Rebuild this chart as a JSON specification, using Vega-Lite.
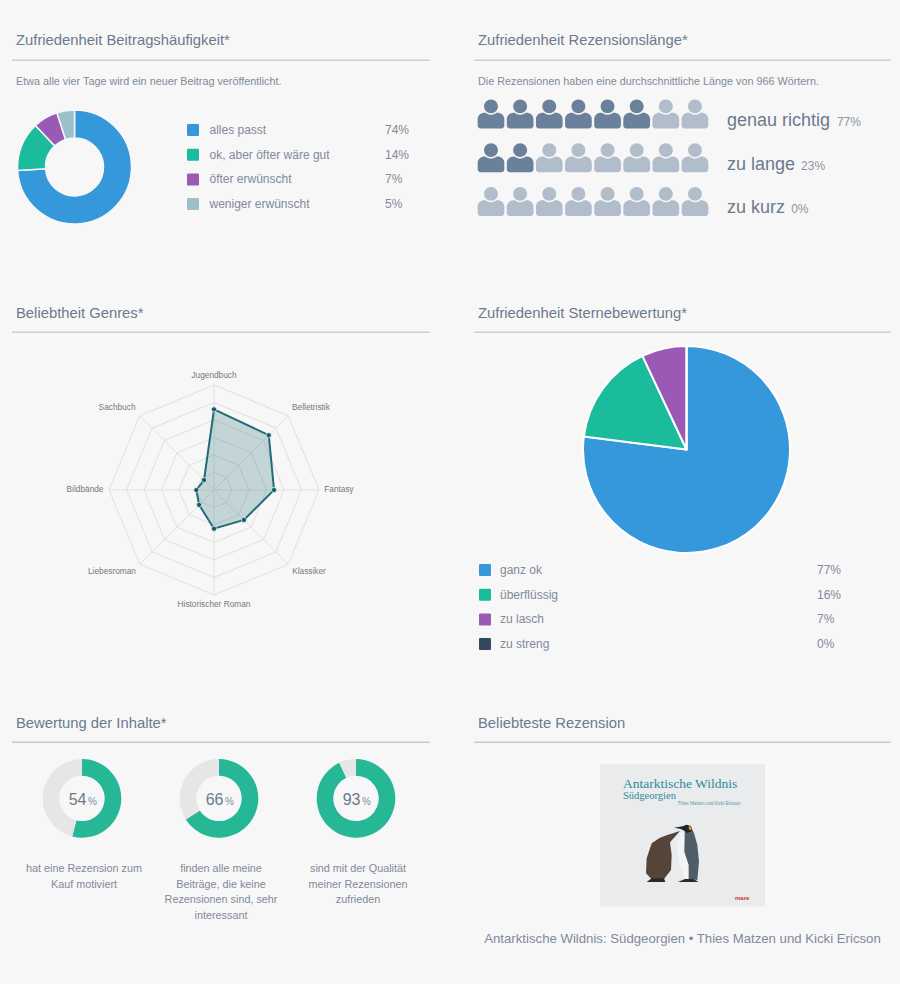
{
  "$schema": "https://vega.github.io/schema/vega-lite/v6.json",
  "description": "Umfrage-Auswertung eines Buchblogs",
  "background": "#f7f7f7",
  "padding": {"left": 11, "top": 31, "right": 8, "bottom": 0},
  "spacing": 0,
  "resolve": {"scale": {"color": "independent", "shape": "independent", "size": "independent"}},
  "config": {
    "font": "Liberation Sans",
    "view": {"stroke": null},
    "axis": {"disable": true},
    "legend": {"disable": true}
  },
  "vconcat": [
    {
      "resolve": {"scale": {"color": "independent", "shape": "independent", "size": "independent"}},
      "hconcat": [
        {
          "resolve": {"scale": {"color": "independent", "shape": "independent", "size": "independent"}},
          "vconcat": [
            {
              "width": 418, "height": 30,
              "data": {"values": [{"titel": "Zufriedenheit Beitragshäufigkeit*"}]},
              "layer": [
                {"mark": {"type": "text", "align": "left", "baseline": "middle", "fontSize": 14.8, "color": "#6c7a8d"},
                 "encoding": {"x": {"datum": 4, "scale": {"domain": [0, 418], "nice": false}}, "y": {"datum": 10, "scale": {"domain": [30, 0], "nice": false}}, "text": {"field": "titel"}}},
                {"mark": {"type": "rule", "color": "#cfcfcf", "strokeWidth": 1.5},
                 "encoding": {"y": {"datum": 29.25}}}
              ]
            },
            {
              "width": 418, "height": 42,
              "data": {"values": [{"text": "Etwa alle vier Tage wird ein neuer Beitrag veröffentlicht."}]},
              "mark": {"type": "text", "align": "left", "baseline": "middle", "fontSize": 10.8, "color": "#808a9a"},
              "encoding": {"x": {"datum": 4, "scale": {"domain": [0, 418], "nice": false}}, "y": {"datum": 21, "scale": {"domain": [42, 0], "nice": false}}, "text": {"field": "text"}}
            },
            {
              "resolve": {"scale": {"color": "independent", "shape": "independent", "size": "independent"}},
              "hconcat": [
                {
                  "width": 175, "height": 200,
                  "data": {"values": [
                    {"kategorie": "alles passt", "anteil": 74, "rang": 1},
                    {"kategorie": "ok, aber öfter wäre gut", "anteil": 14, "rang": 2},
                    {"kategorie": "öfter erwünscht", "anteil": 7, "rang": 3},
                    {"kategorie": "weniger erwünscht", "anteil": 5, "rang": 4}
                  ]},
                  "mark": {"type": "arc", "outerRadius": 57, "innerRadius": 29, "stroke": "#f7f7f7", "strokeWidth": 1.5},
                  "encoding": {
                    "x": {"datum": 62.5, "scale": {"domain": [0, 175], "nice": false}},
                    "y": {"datum": 64, "scale": {"domain": [200, 0], "nice": false}},
                    "theta": {"field": "anteil", "type": "quantitative", "stack": true, "scale": {"domain": [0, 100]}},
                    "order": {"field": "rang"},
                    "color": {"field": "kategorie", "scale": {"domain": ["alles passt", "ok, aber öfter wäre gut", "öfter erwünscht", "weniger erwünscht"], "range": ["#3498db", "#1abc9c", "#9b59b6", "#9bc0c9"]}}
                  }
                },
                {
                  "width": 243, "height": 200,
                  "data": {"values": [
                    {"kategorie": "alles passt", "prozent": "74%"},
                    {"kategorie": "ok, aber öfter wäre gut", "prozent": "14%"},
                    {"kategorie": "öfter erwünscht", "prozent": "7%"},
                    {"kategorie": "weniger erwünscht", "prozent": "5%"}
                  ]},
                  "encoding": {
                    "y": {"field": "kategorie", "type": "nominal", "sort": null, "scale": {"range": [14.7, 113.4]}}
                  },
                  "layer": [
                    {"mark": {"type": "point", "filled": true, "opacity": 1, "size": 144, "shape": "M-0.8,-1 L0.8,-1 Q1,-1 1,-0.8 L1,0.8 Q1,1 0.8,1 L-0.8,1 Q-1,1 -1,0.8 L-1,-0.8 Q-1,-1 -0.8,-1 Z"},
                     "encoding": {"x": {"datum": 6, "scale": {"domain": [0, 243], "nice": false}},
                       "color": {"field": "kategorie", "scale": {"domain": ["alles passt", "ok, aber öfter wäre gut", "öfter erwünscht", "weniger erwünscht"], "range": ["#3498db", "#1abc9c", "#9b59b6", "#9bc0c9"]}}}},
                    {"mark": {"type": "text", "align": "left", "baseline": "middle", "fontSize": 12, "color": "#808a9a"},
                     "encoding": {"x": {"datum": 22.5}, "text": {"field": "kategorie"}}},
                    {"mark": {"type": "text", "align": "left", "baseline": "middle", "fontSize": 12, "color": "#808a9a"},
                     "encoding": {"x": {"datum": 198}, "text": {"field": "prozent"}}}
                  ]
                }
              ],
              "spacing": 0
            }
          ],
          "spacing": 0
        },
        {
          "resolve": {"scale": {"color": "independent", "shape": "independent", "size": "independent"}},
          "vconcat": [
            {
              "width": 417, "height": 30,
              "data": {"values": [{"titel": "Zufriedenheit Rezensionslänge*"}]},
              "layer": [
                {"mark": {"type": "text", "align": "left", "baseline": "middle", "fontSize": 14.8, "color": "#6c7a8d"},
                 "encoding": {"x": {"datum": 4, "scale": {"domain": [0, 417], "nice": false}}, "y": {"datum": 10, "scale": {"domain": [30, 0], "nice": false}}, "text": {"field": "titel"}}},
                {"mark": {"type": "rule", "color": "#cfcfcf", "strokeWidth": 1.5},
                 "encoding": {"y": {"datum": 29.25}}}
              ]
            },
            {
              "width": 417, "height": 32,
              "data": {"values": [{"text": "Die Rezensionen haben eine durchschnittliche Länge von 966 Wörtern."}]},
              "mark": {"type": "text", "align": "left", "baseline": "middle", "fontSize": 10.8, "color": "#808a9a"},
              "encoding": {"x": {"datum": 4, "scale": {"domain": [0, 417], "nice": false}}, "y": {"datum": 21, "scale": {"domain": [32, 0], "nice": false}}, "text": {"field": "text"}}
            },
            {
              "width": 417, "height": 210,
              "layer": [
                {
                  "data": {"values": [
                    {"urteil": "genau richtig", "platz": 1, "status": "voll"},
                    {"urteil": "genau richtig", "platz": 2, "status": "voll"},
                    {"urteil": "genau richtig", "platz": 3, "status": "voll"},
                    {"urteil": "genau richtig", "platz": 4, "status": "voll"},
                    {"urteil": "genau richtig", "platz": 5, "status": "voll"},
                    {"urteil": "genau richtig", "platz": 6, "status": "voll"},
                    {"urteil": "genau richtig", "platz": 7, "status": "leer"},
                    {"urteil": "genau richtig", "platz": 8, "status": "leer"},
                    {"urteil": "zu lange", "platz": 1, "status": "voll"},
                    {"urteil": "zu lange", "platz": 2, "status": "voll"},
                    {"urteil": "zu lange", "platz": 3, "status": "leer"},
                    {"urteil": "zu lange", "platz": 4, "status": "leer"},
                    {"urteil": "zu lange", "platz": 5, "status": "leer"},
                    {"urteil": "zu lange", "platz": 6, "status": "leer"},
                    {"urteil": "zu lange", "platz": 7, "status": "leer"},
                    {"urteil": "zu lange", "platz": 8, "status": "leer"},
                    {"urteil": "zu kurz", "platz": 1, "status": "leer"},
                    {"urteil": "zu kurz", "platz": 2, "status": "leer"},
                    {"urteil": "zu kurz", "platz": 3, "status": "leer"},
                    {"urteil": "zu kurz", "platz": 4, "status": "leer"},
                    {"urteil": "zu kurz", "platz": 5, "status": "leer"},
                    {"urteil": "zu kurz", "platz": 6, "status": "leer"},
                    {"urteil": "zu kurz", "platz": 7, "status": "leer"},
                    {"urteil": "zu kurz", "platz": 8, "status": "leer"}
                  ]},
                  "mark": {"type": "point", "filled": true, "opacity": 1, "size": 841,
                    "shape": "M-0.48,-0.52 C-0.48,-0.785 -0.265,-1 0,-1 C0.265,-1 0.48,-0.785 0.48,-0.52 C0.48,-0.255 0.265,-0.04 0,-0.04 C-0.265,-0.04 -0.48,-0.255 -0.48,-0.52 Z M-0.92,0.8 L-0.92,0.35 C-0.92,0.1 -0.7,-0.08 -0.45,-0.08 L-0.377,-0.08 C-0.25,0.03 -0.12,0.06 0,0.06 C0.12,0.06 0.25,0.03 0.377,-0.08 L0.45,-0.08 C0.7,-0.08 0.92,0.1 0.92,0.35 L0.92,0.8 C0.92,0.91 0.83,1 0.72,1 L-0.72,1 C-0.83,1 -0.92,0.91 -0.92,0.8 Z"},
                  "encoding": {
                    "x": {"field": "platz", "type": "quantitative", "scale": {"domain": [0.4166, 14.727], "nice": false, "zero": false}},
                    "y": {"field": "urteil", "type": "nominal", "scale": {"domain": ["genau richtig", "zu lange", "zu kurz"], "range": [-1, 130.25]}},
                    "color": {"field": "status", "scale": {"domain": ["voll", "leer"], "range": ["#6b819b", "#b1bdca"]}}
                  }
                },
                {
                  "data": {"values": [{"urteil": "genau richtig"}, {"urteil": "zu lange"}, {"urteil": "zu kurz"}]},
                  "mark": {"type": "text", "align": "left", "baseline": "alphabetic", "dy": 12, "fontSize": 18, "color": "#6c7a8d"},
                  "encoding": {"x": {"datum": 9.1}, "y": {"field": "urteil", "type": "nominal"}, "text": {"field": "urteil"}}
                },
                {
                  "data": {"values": [{"urteil": "genau richtig", "prozent": "77%"}]},
                  "mark": {"type": "text", "align": "left", "baseline": "alphabetic", "dy": 12, "fontSize": 12, "color": "#8a94a3"},
                  "encoding": {"x": {"datum": 12.87}, "y": {"field": "urteil", "type": "nominal"}, "text": {"field": "prozent"}}
                },
                {
                  "data": {"values": [{"urteil": "zu lange", "prozent": "23%"}]},
                  "mark": {"type": "text", "align": "left", "baseline": "alphabetic", "dy": 12, "fontSize": 12, "color": "#8a94a3"},
                  "encoding": {"x": {"datum": 11.64}, "y": {"field": "urteil", "type": "nominal"}, "text": {"field": "prozent"}}
                },
                {
                  "data": {"values": [{"urteil": "zu kurz", "prozent": "0%"}]},
                  "mark": {"type": "text", "align": "left", "baseline": "alphabetic", "dy": 12, "fontSize": 12, "color": "#8a94a3"},
                  "encoding": {"x": {"datum": 11.3}, "y": {"field": "urteil", "type": "nominal"}, "text": {"field": "prozent"}}
                }
              ]
            }
          ],
          "spacing": 0
        }
      ],
      "spacing": 42
    },
    {
      "resolve": {"scale": {"color": "independent", "shape": "independent", "size": "independent"}},
      "hconcat": [
        {
          "resolve": {"scale": {"color": "independent", "shape": "independent", "size": "independent"}},
          "vconcat": [
            {
              "width": 418, "height": 30,
              "data": {"values": [{"titel": "Beliebtheit Genres*"}]},
              "layer": [
                {"mark": {"type": "text", "align": "left", "baseline": "middle", "fontSize": 14.8, "color": "#6c7a8d"},
                 "encoding": {"x": {"datum": 4, "scale": {"domain": [0, 418], "nice": false}}, "y": {"datum": 11, "scale": {"domain": [30, 0], "nice": false}}, "text": {"field": "titel"}}},
                {"mark": {"type": "rule", "color": "#cfcfcf", "strokeWidth": 1.5},
                 "encoding": {"y": {"datum": 29.25}}}
              ]
            },
            {
              "width": 418, "height": 380,
              "layer": [
                {
                  "data": {"values": [{"ring": 1}, {"ring": 2}, {"ring": 3}, {"ring": 4}, {"ring": 5}, {"ring": 6}]},
                  "mark": {"type": "point", "filled": false, "opacity": 1, "stroke": "#e0e0e0", "strokeWidth": 1,
                    "shape": "M0,-1 L0.7071,-0.7071 L1,0 L0.7071,0.7071 L0,1 L-0.7071,0.7071 L-1,0 L-0.7071,-0.7071 Z"},
                  "encoding": {
                    "x": {"datum": 0, "scale": {"domain": [-11.543, 12.343], "nice": false, "zero": false}},
                    "y": {"datum": 0, "scale": {"domain": [-12.743, 8.971], "nice": false, "zero": false}},
                    "size": {"field": "ring", "type": "quantitative", "scale": {"type": "pow", "exponent": 2, "domain": [0, 6], "range": [0, 44100]}}
                  }
                },
                {
                  "data": {"values": [
                    {"x": 0, "y": 6, "x2": 0, "y2": -6},
                    {"x": 4.243, "y": 4.243, "x2": -4.243, "y2": -4.243},
                    {"x": 6, "y": 0, "x2": -6, "y2": 0},
                    {"x": 4.243, "y": -4.243, "x2": -4.243, "y2": 4.243}
                  ]},
                  "mark": {"type": "rule", "color": "#e0e0e0", "strokeWidth": 1},
                  "encoding": {
                    "x": {"field": "x", "type": "quantitative"}, "y": {"field": "y", "type": "quantitative"},
                    "x2": {"field": "x2"}, "y2": {"field": "y2"}
                  }
                },
                {
                  "data": {"name": "genres", "values": [
                    {"genre": "Jugendbuch", "reihe": 1, "x": 0, "y": 4.61},
                    {"genre": "Belletristik", "reihe": 2, "x": 3.13, "y": 3.13},
                    {"genre": "Fantasy", "reihe": 3, "x": 3.43, "y": 0},
                    {"genre": "Klassiker", "reihe": 4, "x": 1.71, "y": -1.71},
                    {"genre": "Historischer Roman", "reihe": 5, "x": 0, "y": -2.21},
                    {"genre": "Liebesroman", "reihe": 6, "x": -0.85, "y": -0.85},
                    {"genre": "Bildbände", "reihe": 7, "x": -1.01, "y": 0},
                    {"genre": "Sachbuch", "reihe": 8, "x": -0.57, "y": 0.57}
                  ]},
                  "mark": {"type": "line", "interpolate": "linear-closed", "fill": "#2a6f7c", "fillOpacity": 0.25, "stroke": "#226b78", "strokeWidth": 2},
                  "encoding": {
                    "x": {"field": "x", "type": "quantitative"}, "y": {"field": "y", "type": "quantitative"},
                    "order": {"field": "reihe"}
                  }
                },
                {
                  "data": {"name": "genres"},
                  "mark": {"type": "point", "filled": true, "opacity": 1, "size": 26, "color": "#0f5a66", "stroke": "#f7f7f7", "strokeWidth": 0.7},
                  "encoding": {"x": {"field": "x", "type": "quantitative"}, "y": {"field": "y", "type": "quantitative"}}
                },
                {
                  "data": {"values": [
                    {"genre": "Jugendbuch", "x": 0, "y": 6.53},
                    {"genre": "Belletristik", "x": 5.54, "y": 4.69},
                    {"genre": "Fantasy", "x": 7.14, "y": 0},
                    {"genre": "Klassiker", "x": 5.43, "y": -4.69},
                    {"genre": "Historischer Roman", "x": 0, "y": -6.57},
                    {"genre": "Liebesroman", "x": -5.83, "y": -4.69},
                    {"genre": "Bildbände", "x": -7.37, "y": 0},
                    {"genre": "Sachbuch", "x": -5.54, "y": 4.69}
                  ]},
                  "mark": {"type": "text", "fontSize": 8.3, "color": "#777777", "baseline": "middle"},
                  "encoding": {"x": {"field": "x", "type": "quantitative"}, "y": {"field": "y", "type": "quantitative"}, "text": {"field": "genre"}}
                }
              ]
            }
          ],
          "spacing": 0
        },
        {
          "resolve": {"scale": {"color": "independent", "shape": "independent", "size": "independent"}},
          "vconcat": [
            {
              "width": 417, "height": 30,
              "data": {"values": [{"titel": "Zufriedenheit Sternebewertung*"}]},
              "layer": [
                {"mark": {"type": "text", "align": "left", "baseline": "middle", "fontSize": 14.8, "color": "#6c7a8d"},
                 "encoding": {"x": {"datum": 4, "scale": {"domain": [0, 417], "nice": false}}, "y": {"datum": 11, "scale": {"domain": [30, 0], "nice": false}}, "text": {"field": "titel"}}},
                {"mark": {"type": "rule", "color": "#cfcfcf", "strokeWidth": 1.5},
                 "encoding": {"y": {"datum": 29.25}}}
              ]
            },
            {
              "width": 417, "height": 222,
              "data": {"values": [
                {"kategorie": "ganz ok", "anteil": 77, "rang": 1},
                {"kategorie": "überflüssig", "anteil": 16, "rang": 2},
                {"kategorie": "zu lasch", "anteil": 7, "rang": 3},
                {"kategorie": "zu streng", "anteil": 0, "rang": 4}
              ]},
              "mark": {"type": "arc", "outerRadius": 103.5, "stroke": "#ffffff", "strokeWidth": 2, "strokeJoin": "round"},
              "encoding": {
                "x": {"datum": 212.5, "scale": {"domain": [0, 417], "nice": false}},
                "y": {"datum": 116.5, "scale": {"domain": [222, 0], "nice": false}},
                "theta": {"field": "anteil", "type": "quantitative", "stack": true, "scale": {"domain": [0, 100]}},
                "order": {"field": "rang"},
                "color": {"field": "kategorie", "scale": {"domain": ["ganz ok", "überflüssig", "zu lasch", "zu streng"], "range": ["#3498db", "#1abc9c", "#9b59b6", "#34495e"]}}
              }
            },
            {
              "width": 417, "height": 158,
              "data": {"values": [
                {"kategorie": "ganz ok", "prozent": "77%"},
                {"kategorie": "überflüssig", "prozent": "16%"},
                {"kategorie": "zu lasch", "prozent": "7%"},
                {"kategorie": "zu streng", "prozent": "0%"}
              ]},
              "encoding": {
                "y": {"field": "kategorie", "type": "nominal", "sort": null, "scale": {"range": [2.7, 101.4]}}
              },
              "layer": [
                {"mark": {"type": "point", "filled": true, "opacity": 1, "size": 144, "shape": "M-0.8,-1 L0.8,-1 Q1,-1 1,-0.8 L1,0.8 Q1,1 0.8,1 L-0.8,1 Q-1,1 -1,0.8 L-1,-0.8 Q-1,-1 -0.8,-1 Z"},
                 "encoding": {"x": {"datum": 11, "scale": {"domain": [0, 417], "nice": false}},
                   "color": {"field": "kategorie", "scale": {"domain": ["ganz ok", "überflüssig", "zu lasch", "zu streng"], "range": ["#3498db", "#1abc9c", "#9b59b6", "#34495e"]}}}},
                {"mark": {"type": "text", "align": "left", "baseline": "middle", "fontSize": 12, "color": "#808a9a"},
                 "encoding": {"x": {"datum": 26}, "text": {"field": "kategorie"}}},
                {"mark": {"type": "text", "align": "left", "baseline": "middle", "fontSize": 12, "color": "#808a9a"},
                 "encoding": {"x": {"datum": 343}, "text": {"field": "prozent"}}}
              ]
            }
          ],
          "spacing": 0
        }
      ],
      "spacing": 42
    },
    {
      "resolve": {"scale": {"color": "independent", "shape": "independent", "size": "independent"}},
      "hconcat": [
        {
          "resolve": {"scale": {"color": "independent", "shape": "independent", "size": "independent"}},
          "vconcat": [
            {
              "width": 418, "height": 30,
              "data": {"values": [{"titel": "Bewertung der Inhalte*"}]},
              "layer": [
                {"mark": {"type": "text", "align": "left", "baseline": "middle", "fontSize": 14.8, "color": "#6c7a8d"},
                 "encoding": {"x": {"datum": 4, "scale": {"domain": [0, 418], "nice": false}}, "y": {"datum": 11, "scale": {"domain": [30, 0], "nice": false}}, "text": {"field": "titel"}}},
                {"mark": {"type": "rule", "color": "#c8cacb", "strokeWidth": 1.5},
                 "encoding": {"y": {"datum": 29.25}}}
              ]
            },
            {
              "data": {"values": [
                {"frage": "Kauf", "teil": "ja", "rang": 1, "anteil": 54, "text": "hat eine Rezension zum\nKauf motiviert"},
                {"frage": "Kauf", "teil": "nein", "rang": 2, "anteil": 46},
                {"frage": "Beiträge", "teil": "ja", "rang": 1, "anteil": 66, "text": "finden alle meine\nBeiträge, die keine\nRezensionen sind, sehr\ninteressant"},
                {"frage": "Beiträge", "teil": "nein", "rang": 2, "anteil": 34},
                {"frage": "Qualität", "teil": "ja", "rang": 1, "anteil": 93, "text": "sind mit der Qualität\nmeiner Rezensionen\nzufrieden"},
                {"frage": "Qualität", "teil": "nein", "rang": 2, "anteil": 7}
              ]},
              "facet": {"column": {"field": "frage", "type": "nominal", "sort": ["Kauf", "Beiträge", "Qualität"], "header": null}},
              "spacing": 0,
              "spec": {
                "width": 136.4, "height": 242,
                "layer": [
                  {
                    "mark": {"type": "arc", "outerRadius": 39.3, "innerRadius": 22.7},
                    "encoding": {
                      "x": {"datum": 70, "scale": {"domain": [0, 136.4], "nice": false}},
                      "y": {"datum": 55.4, "scale": {"domain": [242, 0], "nice": false}},
                      "theta": {"field": "anteil", "type": "quantitative", "stack": true, "scale": {"domain": [0, 100]}},
                      "order": {"field": "rang"},
                      "color": {"field": "teil", "scale": {"domain": ["ja", "nein"], "range": ["#26b896", "#e6e6e6"]}}
                    }
                  },
                  {
                    "transform": [{"filter": "datum.teil === 'ja'"}],
                    "mark": {"type": "text", "align": "right", "baseline": "alphabetic", "fontSize": 16, "color": "#6c7a8d"},
                    "encoding": {"x": {"datum": 74.5}, "y": {"datum": 61.5}, "text": {"field": "anteil", "type": "quantitative"}}
                  },
                  {
                    "transform": [{"filter": "datum.teil === 'ja'"}],
                    "mark": {"type": "text", "align": "left", "baseline": "alphabetic", "fontSize": 10, "color": "#808a9a", "text": "%"},
                    "encoding": {"x": {"datum": 76}, "y": {"datum": 61.5}}
                  },
                  {
                    "transform": [{"filter": "datum.teil === 'ja'"}],
                    "mark": {"type": "text", "align": "center", "baseline": "top", "fontSize": 10.8, "lineHeight": 15.7, "lineBreak": "\n", "color": "#808a9a"},
                    "encoding": {"x": {"datum": 72}, "y": {"datum": 120}, "text": {"field": "text"}}
                  }
                ]
              }
            }
          ],
          "spacing": 0
        },
        {
          "resolve": {"scale": {"color": "independent", "shape": "independent", "size": "independent"}},
          "vconcat": [
            {
              "width": 417, "height": 30,
              "data": {"values": [{"titel": "Beliebteste Rezension"}]},
              "layer": [
                {"mark": {"type": "text", "align": "left", "baseline": "middle", "fontSize": 14.8, "color": "#6c7a8d"},
                 "encoding": {"x": {"datum": 4, "scale": {"domain": [0, 417], "nice": false}}, "y": {"datum": 11, "scale": {"domain": [30, 0], "nice": false}}, "text": {"field": "titel"}}},
                {"mark": {"type": "rule", "color": "#c8cacb", "strokeWidth": 1.5},
                 "encoding": {"y": {"datum": 29.25}}}
              ]
            },
            {
              "width": 417, "height": 242,
              "layer": [
                {
                  "data": {"values": [{"motiv": "Umschlag"}]},
                  "mark": {"type": "rect", "color": "#e9ebec"},
                  "encoding": {
                    "x": {"datum": 126, "scale": {"domain": [0, 417], "nice": false}}, "x2": {"datum": 291},
                    "y": {"datum": 21, "scale": {"domain": [242, 0], "nice": false}}, "y2": {"datum": 163.5}
                  }
                },
                {
                  "data": {"values": [
                    {"motiv": "Küken"}, {"motiv": "Bauch"}, {"motiv": "Rücken"}, {"motiv": "Kopf"}, {"motiv": "Kehle"}, {"motiv": "Füße"}
                  ]},
                  "mark": {"type": "point", "filled": true, "opacity": 1, "size": 3600},
                  "encoding": {
                    "x": {"datum": 206}, "y": {"datum": 102},
                    "color": {"field": "motiv", "scale": {"domain": ["Küken", "Bauch", "Rücken", "Kopf", "Kehle", "Füße"], "range": ["#54443a", "#f4f4f4", "#4f5d68", "#1f2428", "#d89a2a", "#2a2a2a"]}},
                    "shape": {"field": "motiv", "scale": {"domain": ["Küken", "Bauch", "Rücken", "Kopf", "Kehle", "Füße"], "range": [
                      "M0,-0.467 L-0.333,-0.089 L-0.278,0.333 L-0.3,0.833 L-0.533,1.133 L-0.889,1.2 L-1.133,0.944 L-1.111,0.444 L-0.944,-0.056 L-0.667,-0.244 L-0.422,-0.333 Z",
                      "M0.022,-0.422 L-0.089,0.111 L-0.022,0.611 L0.167,1.089 L0.3,1.11 L0.3,0.667 L0.167,-0.333 Z",
                      "M0.167,-0.644 L0.356,-0.622 L0.467,-0.389 L0.578,0 L0.633,0.556 L0.578,1.167 L0.289,1.133 L0.289,0.667 L0.144,0.222 L0.156,-0.333 Z",
                      "M-0.2,-0.578 L0.089,-0.622 L0.222,-0.678 L0.367,-0.633 L0.4,-0.467 L0.244,-0.4 L0.111,-0.489 L0,-0.544 Z",
                      "M0.289,-0.633 L0.378,-0.611 L0.378,-0.489 L0.3,-0.511 Z",
                      "M-0.067,1.233 L0.167,1.133 L0.444,1.133 L0.622,1.233 Z M-1.111,1.233 L-0.944,1.111 L-0.533,1.111 L-0.489,1.233 Z"
                    ]}}
                  }
                },
                {
                  "data": {"values": [{"text": "Antarktische Wildnis"}]},
                  "mark": {"type": "text", "align": "left", "baseline": "middle", "font": "Liberation Serif", "fontSize": 13.5, "color": "#2e8b9a"},
                  "encoding": {"x": {"datum": 149}, "y": {"datum": 40.5}, "text": {"field": "text"}}
                },
                {
                  "data": {"values": [{"text": "Südgeorgien"}]},
                  "mark": {"type": "text", "align": "left", "baseline": "middle", "font": "Liberation Serif", "fontSize": 10.5, "color": "#2e8b9a"},
                  "encoding": {"x": {"datum": 149}, "y": {"datum": 52.5}, "text": {"field": "text"}}
                },
                {
                  "data": {"values": [{"text": "Thies Matzen und Kicki Ericson"}]},
                  "mark": {"type": "text", "align": "left", "baseline": "middle", "fontSize": 4.5, "color": "#5a9aa6"},
                  "encoding": {"x": {"datum": 203.7}, "y": {"datum": 60.7}, "text": {"field": "text"}}
                },
                {
                  "data": {"values": [{"text": "mare"}]},
                  "mark": {"type": "text", "align": "left", "baseline": "middle", "fontSize": 6, "fontWeight": "bold", "color": "#d0342c"},
                  "encoding": {"x": {"datum": 261}, "y": {"datum": 154.7}, "text": {"field": "text"}}
                },
                {
                  "data": {"values": [{"text": "Antarktische Wildnis: Südgeorgien • Thies Matzen und Kicki Ericson"}]},
                  "mark": {"type": "text", "align": "center", "baseline": "middle", "fontSize": 13.2, "color": "#808a9a"},
                  "encoding": {"x": {"datum": 208.5}, "y": {"datum": 196}, "text": {"field": "text"}}
                }
              ]
            }
          ],
          "spacing": 0
        }
      ],
      "spacing": 42
    }
  ]
}
